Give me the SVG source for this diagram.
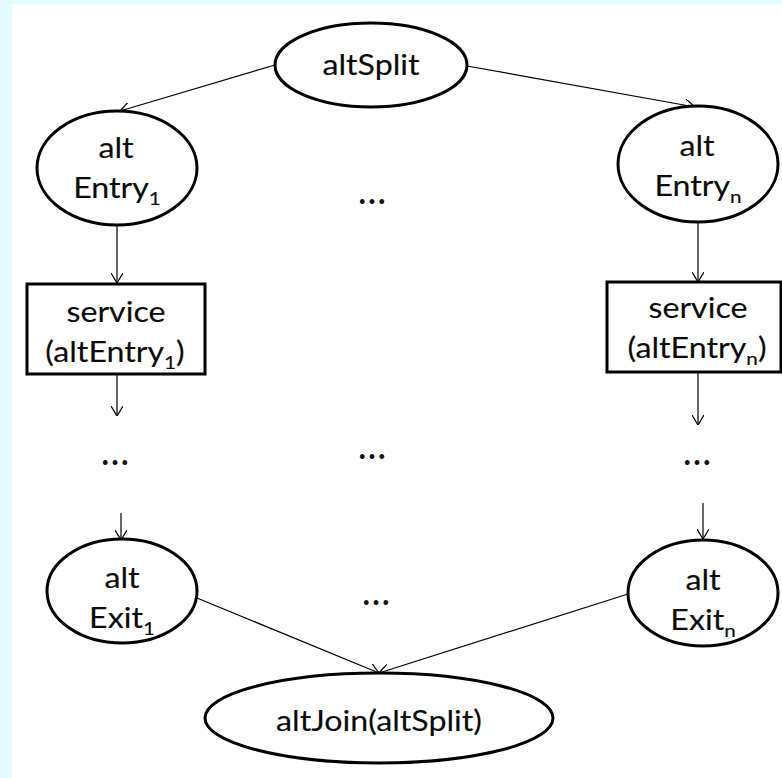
<svg xmlns="http://www.w3.org/2000/svg" width="782" height="778" viewBox="0 0 782 778">
  <defs>
    <marker id="vee" viewBox="0 0 10 12" refX="10" refY="6" markerWidth="10" markerHeight="12" markerUnits="userSpaceOnUse" orient="auto">
      <path d="M0,0 L10,6 L0,12" fill="none" stroke="#000" stroke-width="1.2"/>
    </marker>
  </defs>
  <style>
    .shape { fill: #fff; stroke: #000; stroke-width: 3; }
    .edge { fill: none; stroke: #000; stroke-width: 1.2; marker-end: url(#vee); }
    /* labels are widened a little by each text's transform */
    .lbl { font-family: Lato, "Liberation Sans", sans-serif; font-size: 28px; fill: #0a0a0a; stroke: #0a0a0a; stroke-width: 0.12; text-anchor: middle; }
    .sub { font-size: 18px; }
    .dots { font-family: Lato, "Liberation Sans", sans-serif; font-size: 38px; fill: #111; text-anchor: middle; }
  </style>

  <!-- page -->
  <rect x="0" y="0" width="782" height="778" fill="#e4fcff"/>
  <rect x="12" y="4" width="770" height="774" fill="#fff"/>

  <!-- connectors -->
  <g id="connectors">
    <path class="edge" d="M275,65 L120,111"/>
    <path class="edge" d="M467,66 L695,107"/>
    <path class="edge" d="M117,225 L117,283"/>
    <path class="edge" d="M698,222 L698,282"/>
    <path class="edge" d="M117,375 L117,416"/>
    <path class="edge" d="M698,372 L698,425"/>
    <path class="edge" d="M121,513 L121,540"/>
    <path class="edge" d="M703,503 L703,539"/>
    <path class="edge" d="M197,598 L379,673"/>
    <path class="edge" d="M628,594 L379,673"/>
  </g>

  <g id="altSplit">
    <ellipse class="shape" cx="371" cy="65" rx="96" ry="42"/>
    <text class="lbl" transform="translate(371,0) scale(1.15,1)" x="0" y="75">altSplit</text>
  </g>

  <g id="altEntry1">
    <ellipse class="shape" cx="117" cy="168" rx="80" ry="57"/>
    <text class="lbl" transform="translate(116,0) scale(1.15,1)" x="0" y="158">alt</text>
    <text class="lbl" transform="translate(117,0) scale(1.15,1)" x="0" y="198">Entry<tspan class="sub" dy="7">1</tspan></text>
  </g>

  <g id="altEntryN">
    <ellipse class="shape" cx="698" cy="164" rx="80" ry="58"/>
    <text class="lbl" transform="translate(697,0) scale(1.15,1)" x="0" y="156">alt</text>
    <text class="lbl" transform="translate(698,0) scale(1.15,1)" x="0" y="196">Entry<tspan class="sub" dy="7">n</tspan></text>
  </g>

  <g id="service1">
    <rect class="shape" x="27" y="284" width="178" height="90"/>
    <text class="lbl" transform="translate(116,0) scale(1.15,1)" x="0" y="322">service</text>
    <text class="lbl" transform="translate(115,0) scale(1.15,1)" x="0" y="362">(altEntry<tspan class="sub" dy="7">1</tspan><tspan dy="-7">)</tspan></text>
  </g>

  <g id="serviceN">
    <rect class="shape" x="607" y="282" width="174" height="90"/>
    <text class="lbl" transform="translate(698,0) scale(1.15,1)" x="0" y="318">service</text>
    <text class="lbl" transform="translate(697,0) scale(1.15,1)" x="0" y="358">(altEntry<tspan class="sub" dy="7">n</tspan><tspan dy="-7">)</tspan></text>
  </g>

  <g id="altExit1">
    <ellipse class="shape" cx="122" cy="591" rx="75" ry="52"/>
    <text class="lbl" transform="translate(122,0) scale(1.15,1)" x="0" y="588">alt</text>
    <text class="lbl" transform="translate(122,0) scale(1.15,1)" x="0" y="628">Exit<tspan class="sub" dy="7">1</tspan></text>
  </g>

  <g id="altExitN">
    <ellipse class="shape" cx="703" cy="593" rx="75" ry="53"/>
    <text class="lbl" transform="translate(703,0) scale(1.15,1)" x="0" y="590">alt</text>
    <text class="lbl" transform="translate(703,0) scale(1.15,1)" x="0" y="630">Exit<tspan class="sub" dy="7">n</tspan></text>
  </g>

  <g id="altJoin">
    <ellipse class="shape" cx="379" cy="718" rx="174" ry="45"/>
    <text class="lbl" transform="translate(379,0) scale(1.15,1)" x="0" y="731">altJoin(altSplit)</text>
  </g>

  <!-- ellipsis marks for the elided branches -->
  <g id="ellipses">
    <text class="dots" x="372" y="204">…</text>
    <text class="dots" x="115" y="465">…</text>
    <text class="dots" x="372" y="459">…</text>
    <text class="dots" x="697" y="465">…</text>
    <text class="dots" x="376" y="605">…</text>
  </g>
</svg>
